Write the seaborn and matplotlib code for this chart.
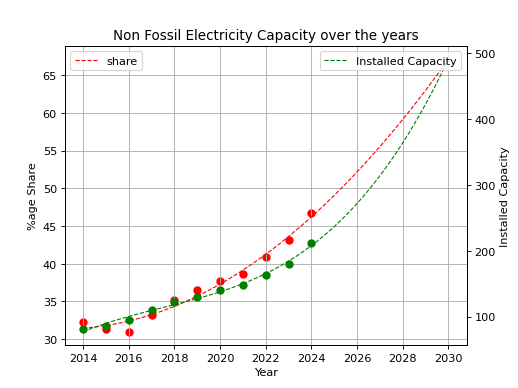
import matplotlib
matplotlib.use('Agg')
import matplotlib.pyplot as plt
import numpy as np
import seaborn as sns

# Data
years = [2014, 2015, 2016, 2017, 2018, 2019, 2020, 2021, 2022, 2023, 2024]
share = [32.3, 31.3, 31.0, 33.2, 35.2, 36.5, 37.7, 38.6, 40.9, 43.1, 46.7]
capacity = [81.3, 85.9, 95.0, 109.7, 121.9, 130.4, 140.1, 147.7, 163.3, 179.6, 211.5]
fit_years = np.arange(2014, 2030.01, 0.1)

# Trend fits projected to 2030
share_fit = np.polyval(np.polyfit(years, share, 2), fit_years)
cap_fit = np.polyval(np.polyfit(years, capacity, 3), fit_years)

fig, ax = plt.subplots(figsize=(6.4, 4.8), dpi=81)
sns.scatterplot(x=years, y=share, color='red', s=55, linewidth=0, ax=ax)
sns.lineplot(x=fit_years, y=share_fit, color='red', linestyle='--', linewidth=1, label='share', ax=ax)
ax.set_xlabel('Year')
ax.set_ylabel('%age Share')
ax.set_title('Non Fossil Electricity Capacity over the years')
ax.grid(True)
ax.legend(loc='upper left')

ax2 = ax.twinx()
sns.scatterplot(x=years, y=capacity, color='green', s=55, linewidth=0, ax=ax2)
sns.lineplot(x=fit_years, y=cap_fit, color='green', linestyle='--', linewidth=1, label='Installed Capacity', ax=ax2)
ax2.set_ylabel('Installed Capacity')
ax2.legend(loc='upper right')

fig.savefig('out.png')
